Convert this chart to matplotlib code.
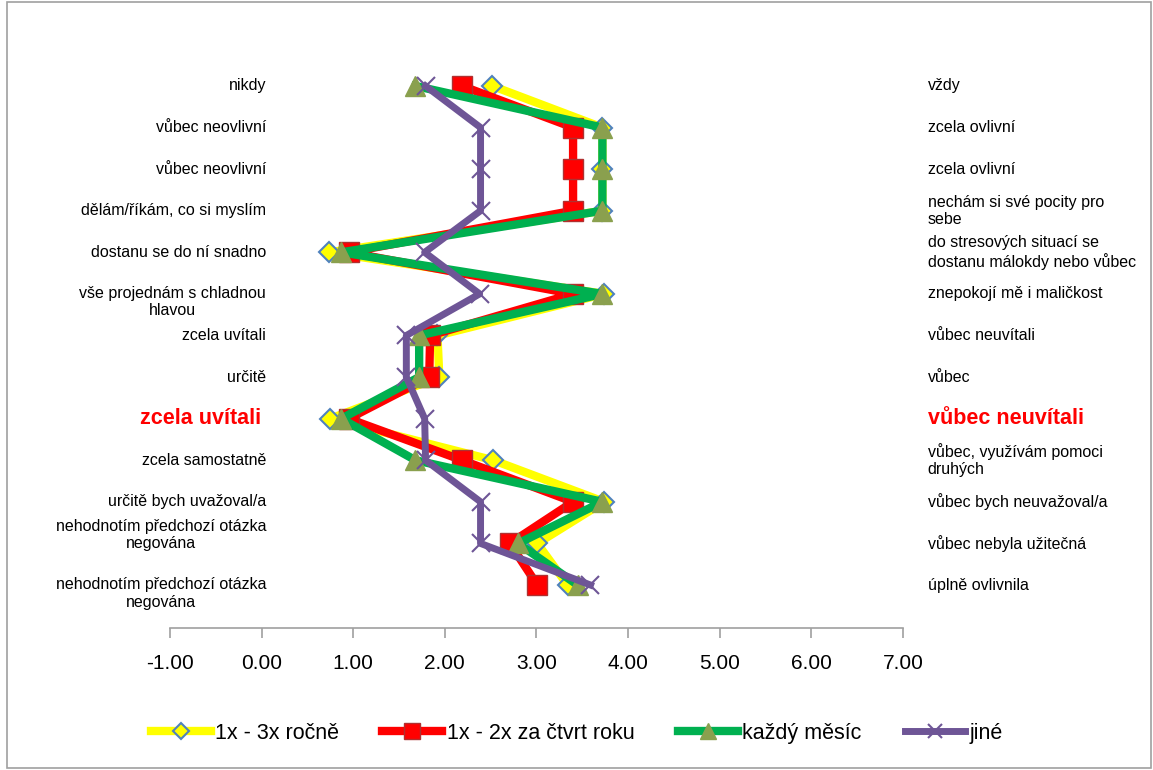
import matplotlib.pyplot as plt
from matplotlib.patches import Rectangle
import numpy as np

plt.rcParams['font.family'] = ['Liberation Sans', 'DejaVu Sans']

# levé a pravé popisky škály (shora dolů)
left_labels = [
    "nikdy", "vůbec neovlivní", "vůbec neovlivní", "dělám/říkám, co si myslím",
    "dostanu se do ní snadno", "vše projednám s chladnou\nhlavou", "zcela uvítali",
    "určitě", "zcela uvítali", "zcela samostatně", "určitě bych uvažoval/a",
    "nehodnotím předchozí otázka\nnegována", "nehodnotím předchozí otázka\nnegována",
]
right_labels = [
    "vždy", "zcela ovlivní", "zcela ovlivní", "nechám si své pocity pro\nsebe",
    "do stresových situací se\ndostanu málokdy nebo vůbec", "znepokojí mě i maličkost",
    "vůbec neuvítali", "vůbec", "vůbec neuvítali", "vůbec, využívám pomoci\ndruhých",
    "vůbec bych neuvažoval/a", "vůbec nebyla užitečná", "úplně ovlivnila",
]
highlight_row = 8

# průměrné hodnoty (shora dolů)
rocne = [2.52, 3.72, 3.72, 3.72, 0.74, 3.74, 1.92, 1.94, 0.75, 2.53, 3.74, 3.01, 3.34]
ctvrtleti = [2.19, 3.40, 3.40, 3.40, 0.95, 3.40, 1.84, 1.83, 0.95, 2.19, 3.40, 2.71, 3.01]
mesic = [1.68, 3.72, 3.72, 3.72, 0.87, 3.72, 1.72, 1.72, 0.87, 1.68, 3.72, 2.80, 3.45]
jine = [1.79, 2.39, 2.39, 2.39, 1.78, 2.38, 1.58, 1.58, 1.78, 1.79, 2.39, 2.39, 3.59]

x_ticks = [-1, 0, 1, 2, 3, 4, 5, 6, 7]

n = len(left_labels)
rows = np.arange(n)[::-1]  # první položka nahoře

fig = plt.figure(figsize=(11.53, 7.70), dpi=100)
ax = fig.add_axes([0.1474, 0.1844, 0.6357, 0.7572])

ax.plot(rocne, rows, color='#FFFF00', lw=6, marker='D', ms=10,
        mfc='#FFFF00', mec='#4F81BD', mew=1.5, label='1x - 3x ročně', zorder=2)
ax.plot(ctvrtleti, rows, color='#FF0000', lw=6, marker='s', ms=14,
        mfc='#FF0000', mec='#B03030', mew=1, label='1x - 2x za čtvrt roku', zorder=3)
ax.plot(mesic, rows, color='#00B050', lw=6, marker='^', ms=15,
        mfc='#8AA04E', mec='#8AA04E', label='každý měsíc', zorder=4)
ax.plot(jine, rows, color='#6E5596', lw=5, marker='x', ms=13, mew=1.5,
        mec='#6E5596', label='jiné', zorder=5)

ax.set_xlim(-1, 7)
ax.set_ylim(-1.034, 12.986)
ax.set_xticks(x_ticks)
ax.set_xticklabels([f"{t:.2f}" for t in x_ticks], fontsize=15)
ax.set_yticks([])
for s in ['left', 'right', 'top']:
    ax.spines[s].set_visible(False)
ax.spines['bottom'].set_color('#A0A0A0')
ax.spines['bottom'].set_linewidth(1.2)
ax.tick_params(axis='x', direction='out', length=7, color='#A0A0A0', width=1.2, pad=12)

# posuny víceřádkových popisků
left_offset = {5: -0.2, 11: 0.2, 12: -0.2}
for i, (lt, rt) in enumerate(zip(left_labels, right_labels)):
    y = rows[i]
    if i == highlight_row:
        ax.text(-0.01, y, lt, ha='right', va='center', fontsize=15.5, fontweight='bold',
                color='#FF0000', clip_on=False)
        ax.text(7.27, y, rt, ha='left', va='center', fontsize=15.5, fontweight='bold',
                color='#FF0000', clip_on=False)
    else:
        ax.text(0.05, y + left_offset.get(i, 0), lt, ha='right', va='center',
                multialignment='center', fontsize=11.5, clip_on=False)
        ax.text(7.27, y, rt, ha='left', va='center', multialignment='left',
                fontsize=11.5, clip_on=False)

leg = fig.legend(loc='center', bbox_to_anchor=(0.5, 0.048), ncol=4, frameon=False,
                 prop={'size': 15.5}, markerscale=0.8,
                 handlelength=2.8, columnspacing=2.0, handletextpad=0.2)

fig.patches.append(Rectangle((0.006, 0.002), 0.992, 0.996, transform=fig.transFigure,
                             fill=False, edgecolor='#A0A0A0', lw=1.2))

fig.savefig('out.png', dpi=100)
